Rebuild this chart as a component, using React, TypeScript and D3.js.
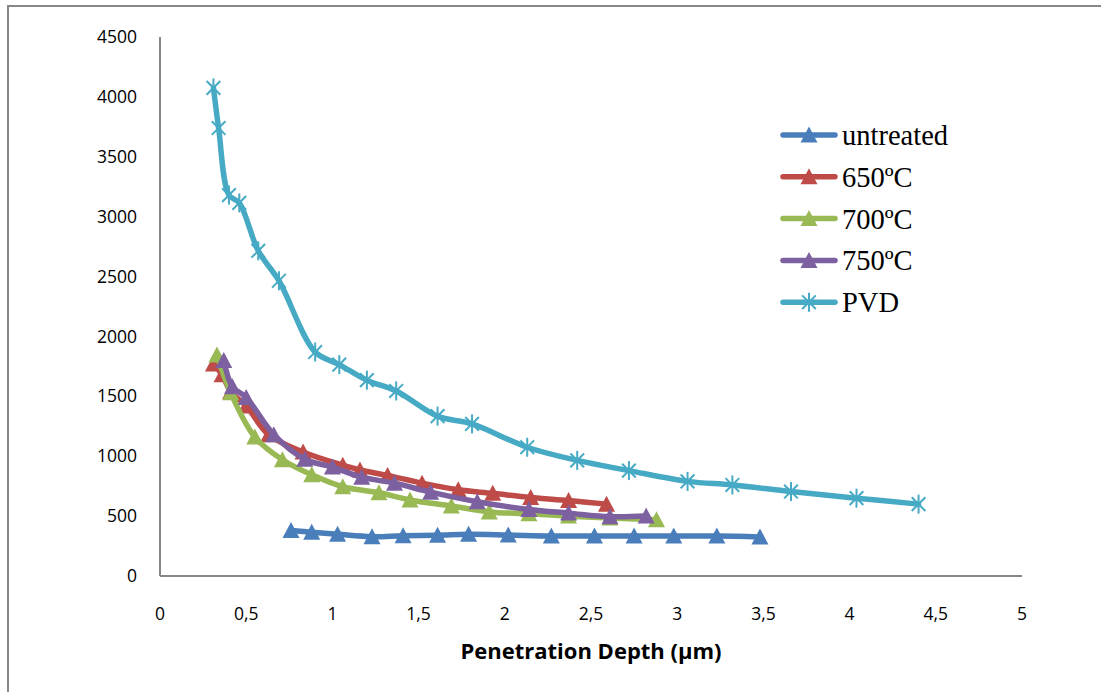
import React from "react";
import * as d3 from "d3";

const untreatedX = [0.76, 0.88, 1.03, 1.23, 1.41, 1.61, 1.79, 2.02, 2.27, 2.52, 2.75, 2.98, 3.23, 3.48];
const untreatedY = [380, 365, 348, 328, 336, 340, 348, 342, 334, 334, 334, 334, 334, 326];

const t650X = [0.31, 0.36, 0.41, 0.5, 0.63, 0.83, 1.06, 1.16, 1.32, 1.52, 1.73, 1.93, 2.15, 2.37, 2.59];
const t650Y = [1770, 1680, 1540, 1420, 1180, 1035, 925, 885, 840, 775, 720, 690, 655, 630, 600];

const t700X = [0.33, 0.41, 0.55, 0.71, 0.88, 1.06, 1.27, 1.45, 1.69, 1.91, 2.14, 2.37, 2.61, 2.88];
const t700Y = [1845, 1530, 1160, 970, 845, 745, 695, 635, 585, 535, 520, 500, 485, 470];

const t750X = [0.37, 0.42, 0.5, 0.66, 0.84, 1.0, 1.17, 1.36, 1.57, 1.84, 2.14, 2.37, 2.61, 2.82];
const t750Y = [1800, 1580, 1490, 1180, 975, 910, 825, 775, 700, 620, 555, 525, 495, 500];

const pvdX = [0.31, 0.34, 0.4, 0.46, 0.57, 0.69, 0.9, 1.04, 1.2, 1.37, 1.61, 1.81, 2.13, 2.42, 2.72, 3.06, 3.32, 3.66, 4.04, 4.4];
const pvdY = [4075, 3740, 3180, 3115, 2715, 2465, 1870, 1765, 1635, 1545, 1335, 1270, 1075, 965, 880, 790, 760, 705, 650, 600];

const xTicks = [0, 0.5, 1, 1.5, 2, 2.5, 3, 3.5, 4, 4.5, 5];
const yTicks = [0, 500, 1000, 1500, 2000, 2500, 3000, 3500, 4000, 4500];

const seriesNames = ["untreated", "650ºC", "700ºC", "750ºC", "PVD"];
const seriesColors = ["#4A7EBB", "#BE4B48", "#98B954", "#7D60A0", "#46AAC5"];
const seriesMarkers = ["triangle", "triangle", "triangle", "triangle", "star"];
const seriesXs = [untreatedX, t650X, t700X, t750X, pvdX];
const seriesYs = [untreatedY, t650Y, t700Y, t750Y, pvdY];

const xAxisTitle = "Penetration Depth (µm)";

function Marker({ kind, x, y, color }: { kind: string; x: number; y: number; color: string }) {
  if (kind === "triangle") {
    const w = 8.5, h = 15;
    const p = `M${x},${y - h / 2 - 1} L${x + w},${y + h / 2} L${x - w},${y + h / 2} Z`;
    return <path d={p} fill={color} />;
  }
  const r = 9.5;
  const d = r * 0.72;
  return (
    <g stroke={color} strokeWidth={2}>
      <line x1={x} y1={y - r} x2={x} y2={y + r} />
      <line x1={x - d} y1={y - d} x2={x + d} y2={y + d} />
      <line x1={x - d} y1={y + d} x2={x + d} y2={y - d} />
    </g>
  );
}

export default function App() {
  const left = 160, right = 1022, top = 37, bottom = 576;
  const x = d3.scaleLinear().domain([0, 5]).range([left, right]);
  const y = d3.scaleLinear().domain([0, 4500]).range([bottom, top]);
  const line = d3
    .line<[number, number]>()
    .x((d) => x(d[0]))
    .y((d) => y(d[1]))
    .curve(d3.curveCatmullRom.alpha(0.5));

  const tickFont = "'Open Sans', sans-serif";
  const legendY0 = 135;
  const legendStep = 41.8;

  return (
    <svg
      width={1101}
      height={692}
      style={{ position: "absolute", left: 0, top: 0, background: "#fff" }}
    >
      <rect x={0} y={0} width={1101} height={692} fill="#fff" />
      <path d={`M8,700 L8,6 L1110,6`} fill="none" stroke="#878787" strokeWidth={2} />
      {/* axes */}
      <line x1={left} y1={top} x2={left} y2={bottom} stroke="#878787" strokeWidth={2} />
      <line x1={left} y1={bottom} x2={right} y2={bottom} stroke="#878787" strokeWidth={2} />
      {yTicks.map((t) => (
        <text
          key={"y" + t}
          x={137}
          y={y(t)}
          dy="0.35em"
          textAnchor="end"
          fontFamily={tickFont}
          fontSize={17.5}
          fill="#000"
        >
          {t}
        </text>
      ))}
      {xTicks.map((t) => (
        <text
          key={"x" + t}
          x={x(t)}
          y={614}
          dy="0.35em"
          textAnchor="middle"
          fontFamily={tickFont}
          fontSize={17.5}
          fill="#000"
        >
          {String(t).replace(".", ",")}
        </text>
      ))}
      <text
        x={591}
        y={651}
        dy="0.35em"
        textAnchor="middle"
        fontFamily={tickFont}
        fontWeight="bold"
        fontSize={22}
        fill="#000"
      >
        {xAxisTitle}
      </text>
      {/* series */}
      {seriesNames.map((name, i) => {
        const pts: [number, number][] = seriesXs[i].map((v, j) => [v, seriesYs[i][j]]);
        return (
          <g key={name}>
            <path
              d={line(pts) || ""}
              fill="none"
              stroke={seriesColors[i]}
              strokeWidth={5.5}
              strokeLinejoin="round"
              strokeLinecap="round"
            />
            {pts.map((p, j) => (
              <Marker key={j} kind={seriesMarkers[i]} x={x(p[0])} y={y(p[1])} color={seriesColors[i]} />
            ))}
          </g>
        );
      })}
      {/* legend */}
      {seriesNames.map((name, i) => {
        const ly = legendY0 + i * legendStep;
        return (
          <g key={"lg" + name}>
            <line
              x1={783}
              y1={ly}
              x2={835}
              y2={ly}
              stroke={seriesColors[i]}
              strokeWidth={5.5}
              strokeLinecap="round"
            />
            <Marker kind={seriesMarkers[i]} x={809} y={ly} color={seriesColors[i]} />
            <text
              x={842}
              y={ly}
              dy="0.35em"
              fontFamily="'Liberation Serif', 'Times New Roman', serif"
              fontSize={28.5}
              fill="#000"
            >
              {name}
            </text>
          </g>
        );
      })}
    </svg>
  );
}
